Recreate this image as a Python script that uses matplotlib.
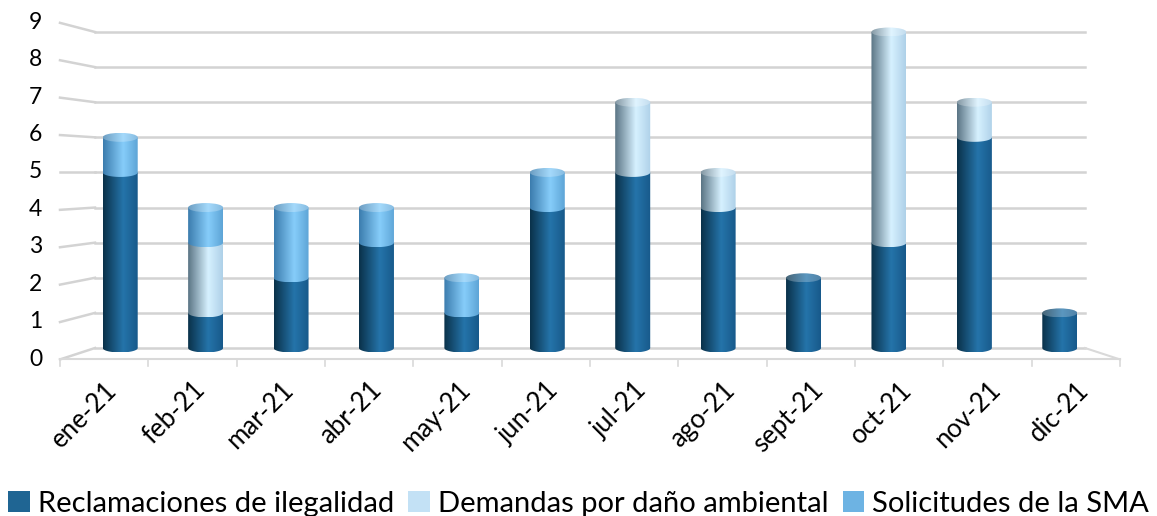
import numpy as np
import matplotlib.pyplot as plt
from matplotlib.path import Path
from matplotlib.patches import PathPatch, Ellipse, Patch
from matplotlib.colors import LinearSegmentedColormap, to_rgb

plt.rcParams['font.family'] = ['Lato', 'DejaVu Sans']

meses = ["ene-21", "feb-21", "mar-21", "abr-21", "may-21", "jun-21",
         "jul-21", "ago-21", "sept-21", "oct-21", "nov-21", "dic-21"]
reclamaciones = [5, 1, 2, 3, 1, 4, 5, 4, 2, 3, 6, 1]
demandas = [0, 2, 0, 0, 0, 0, 2, 1, 0, 6, 1, 0]
solicitudes = [1, 1, 2, 1, 1, 1, 0, 0, 0, 0, 0, 0]
nombres = ["Reclamaciones de ilegalidad", "Demandas por daño ambiental", "Solicitudes de la SMA"]
yticks = list(range(10))

# colores: (borde izq, brillo, borde der), leyenda
estilos = [
    (["#0a3149", "#2574aa", "#17598a"], "#1f6593"),
    (["#5a7484", "#d6f1ff", "#aed0e8"], "#c3e1f5"),
    (["#3b7cad", "#86cdfa", "#5da4d6"], "#6db3e3"),
]

W, H = 1157, 516
fig = plt.figure(figsize=(W / 100, H / 100), dpi=100)

# plano medio (donde están las barras)
x_izq, x_der = 77.5, 1102.5
y0_px, y9_px = 348, 32
u = (y0_px - y9_px) / 9.0
ax = fig.add_axes([x_izq / W, 1 - (y0_px + 0.5 * u) / H,
                   (x_der - x_izq) / W, 10 * u / H])
ax.axis('off')
paso = (x_der - x_izq) / 12


def xd(px):
    return -0.5 + (px - x_izq) / paso


def yfront(v):
    # altura en el plano frontal (perspectiva centrada en 5)
    return 5 + (v - 5) * 37.4 / u


gris = "#d3d3d3"
xb0, xb1 = xd(95), xd(1085)
xf0, xf1 = xd(60), xd(1120)
for v in yticks:
    ax.plot([xb0, xb1], [v, v], color=gris, lw=1.8, zorder=1, clip_on=False)
    ax.plot([xf0, xb0], [yfront(v), v], color=gris, lw=1.8, zorder=1, clip_on=False)
# piso
ax.plot([xf0, xf1], [yfront(0), yfront(0)], color="#d9d9d9", lw=1.5, zorder=1, clip_on=False)
ax.plot([xb1, xf1], [0, yfront(0)], color="#d9d9d9", lw=1.5, zorder=1, clip_on=False)
paso_f = (1120 - 60) / 12
for i in range(13):
    xt = xd(60 + i * paso_f)
    ax.plot([xt, xt], [yfront(0), yfront(0) - 7 / u], color="#d9d9d9", lw=1.2,
            zorder=1, clip_on=False)

ancho = 35 / paso
eh = 4.5 / u
t = np.linspace(np.pi, 2 * np.pi, 60)
grad = np.linspace(0, 1, 256).reshape(1, -1)


def segmento(xc, y0, y1, cmap, z):
    ex = xc + ancho / 2 * np.cos(t)
    ey = y0 + eh * np.sin(t)
    verts = [(xc - ancho / 2, y1)] + list(zip(ex, ey)) + [(xc + ancho / 2, y1), (xc - ancho / 2, y1)]
    patch = PathPatch(Path(verts, closed=True), facecolor='none', edgecolor='none')
    ax.add_patch(patch)
    im = ax.imshow(grad, cmap=cmap, extent=(xc - ancho / 2, xc + ancho / 2, y0 - eh, y1),
                   aspect='auto', origin='lower', zorder=z, interpolation='bilinear')
    im.set_clip_path(patch)


def tapa(xc, y, cmap):
    el = Ellipse((xc, y), ancho, 2 * eh, facecolor='none', edgecolor='none')
    ax.add_patch(el)
    im = ax.imshow(grad, cmap=cmap, extent=(xc - ancho / 2, xc + ancho / 2, y - eh, y + eh),
                   aspect='auto', origin='lower', zorder=20, interpolation='bilinear')
    im.set_clip_path(el)


def aclarar(cols, f):
    return [tuple(np.array(to_rgb(c)) * (1 - f) + f) for c in cols]


valores = [reclamaciones, demandas, solicitudes]
cmaps = [LinearSegmentedColormap.from_list("c%d" % k, list(zip([0, 0.58, 1], e[0])))
         for k, e in enumerate(estilos)]
cmaps_t = [LinearSegmentedColormap.from_list("t%d" % k, list(zip([0, 0.58, 1], aclarar(e[0], 0.25))))
           for k, e in enumerate(estilos)]
for i in range(len(meses)):
    base = 0
    z = 3
    ultimo = None
    for k in range(3):
        v = valores[k][i]
        if v <= 0:
            continue
        segmento(i, base, base + v, cmaps[k], z)
        base += v
        z += 1
        ultimo = k
    if ultimo is not None:
        tapa(i, base, cmaps_t[ultimo])

ax.set_xlim(-0.5, 11.5)
ax.set_ylim(-0.5, 9.5)

# etiquetas eje y
for v in yticks:
    ypx = 172 + (5 - v) * 37.4
    fig.text(42 / W, 1 - ypx / H, str(v), ha='right', va='center', fontsize=16.5, color="#000000")

# etiquetas eje x
for i, m in enumerate(meses):
    xc = 60 + (i + 0.5) * paso_f
    fig.text((xc + 9) / W, 1 - 386 / H, m, ha='right', va='center', rotation=45,
             rotation_mode='anchor', fontsize=18.5)

handles = [Patch(facecolor=e[1], edgecolor='none') for e in estilos]
fig.legend(handles, nombres, loc='lower center', bbox_to_anchor=(0.5, -0.052), ncol=3,
           frameon=False, fontsize=21, handlelength=0.75, handleheight=0.75,
           handletextpad=0.25, columnspacing=0.5)

fig.savefig("out.png", dpi=100)
